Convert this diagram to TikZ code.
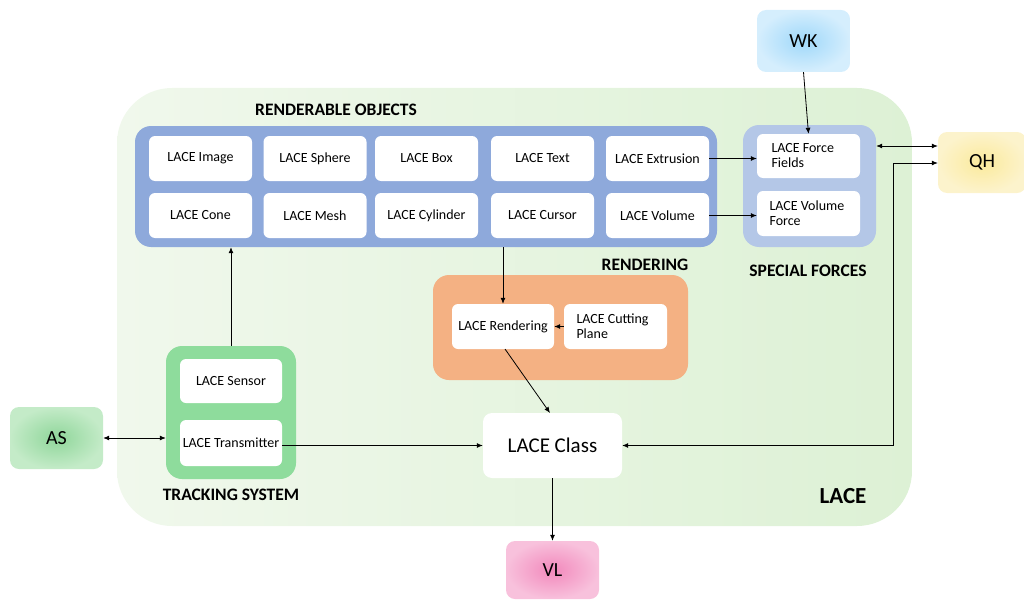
\documentclass[tikz,border=0pt]{standalone}
\usepackage{fontspec}
\setmainfont{Carlito}
\usetikzlibrary{arrows.meta}
\definecolor{lacegreenA}{HTML}{F0F8EC}
\definecolor{lacegreenB}{HTML}{DDF1D5}
\definecolor{roblue}{HTML}{8EA9DB}
\definecolor{sfblue}{HTML}{B4C7E7}
\definecolor{rendorange}{HTML}{F4B183}
\definecolor{trackgreen}{HTML}{8EDC9C}
\definecolor{wkin}{HTML}{9FD8FA}
\definecolor{wkout}{HTML}{D5EEFD}
\definecolor{qhin}{HTML}{FBEA9C}
\definecolor{qhout}{HTML}{FCF3CC}
\definecolor{asin}{HTML}{8FD69A}
\definecolor{asout}{HTML}{C4EBC8}
\definecolor{vlin}{HTML}{F289BC}
\definecolor{vlout}{HTML}{F8C1DC}
\begin{document}
\begin{tikzpicture}[x=1pt,y=-1pt,
  inbox/.style={fill=white,rounded corners=6pt,minimum width=103pt,minimum height=45pt,inner sep=0pt,font=\fontsize{14}{15}\selectfont,align=flush left},
  container/.style={rounded corners=16pt,inner sep=0pt},
  ext/.style={rounded corners=9pt,minimum width=93pt,minimum height=62pt,inner sep=0pt,font=\fontsize{20}{22}\selectfont},
  title/.style={font=\bfseries\fontsize{17.5}{19}\selectfont},
  arr/.style={-{Latex[length=6pt,width=5pt]},line width=0.8pt},
  darr/.style={{Latex[length=6pt,width=5pt]}-{Latex[length=6pt,width=5pt]},line width=0.8pt}]
\useasboundingbox (0,0) rectangle (1024,599);
% LACE background
\shade[left color=lacegreenA,right color=lacegreenB,rounded corners=55pt] (117,88) rectangle (912,526);
\node[font=\bfseries\fontsize{23}{25}\selectfont] (lacelbl) at (843,496) {LACE};
% external nodes
\node[ext,inner color=wkin,outer color=wkout] (wk) at (803.5,41) {WK};
\node[ext,inner color=qhin,outer color=qhout,minimum width=88pt,minimum height=61pt] (qh) at (982,162.5) {QH};
\node[ext,inner color=asin,outer color=asout] (as) at (56.5,438) {AS};
\node[ext,inner color=vlin,outer color=vlout,minimum height=58pt] (vl) at (552.5,570) {VL};
% renderable objects
\node[container,fill=roblue,minimum width=582pt,minimum height=121pt] (ro) at (426,186.5) {};
\node[title] (rolbl) at (336,110) {RENDERABLE OBJECTS};
\node[inbox] (img) at (200.5,158.5) {LACE Image};
\node[inbox] (sph) at (315,158.5) {LACE Sphere};
\node[inbox] (box) at (426.5,158.5) {LACE Box};
\node[inbox] (txt) at (542.5,158.5) {LACE Text};
\node[inbox] (extr) at (657.5,158.5) {LACE Extrusion};
\node[inbox] (cone) at (200.5,215.5) {LACE Cone};
\node[inbox] (mesh) at (315,215.5) {LACE Mesh};
\node[inbox] (cyl) at (426.5,215.5) {LACE Cylinder};
\node[inbox] (cur) at (542.5,215.5) {LACE Cursor};
\node[inbox] (vol) at (657.5,215.5) {LACE Volume};
% special forces
\node[container,fill=sfblue,minimum width=133pt,minimum height=122pt] (sf) at (809.5,186) {};
\node[title] (sflbl) at (808,271) {SPECIAL FORCES};
\node[inbox,minimum height=44pt,text width=74pt] (ff) at (808.5,156) {LACE Force\\Fields};
\node[inbox,text width=78pt] (vf) at (808.5,213.5) {LACE Volume\\Force};
% rendering
\node[container,fill=rendorange,minimum width=255pt,minimum height=105pt] (rd) at (560.5,327.5) {};
\node[title] (rdlbl) at (645,265) {RENDERING};
\node[inbox,minimum width=102pt] (rend) at (503,326.5) {LACE Rendering};
\node[inbox,text width=78pt] (cut) at (615.5,326.5) {LACE Cutting\\Plane};
% tracking
\node[container,fill=trackgreen,minimum width=130pt,minimum height=133pt] (tr) at (231,412.5) {};
\node[title] (trlbl) at (231,495) {TRACKING SYSTEM};
\node[inbox,minimum width=102pt,minimum height=44pt] (sens) at (231,381) {LACE Sensor};
\node[inbox,minimum width=102pt,minimum height=46pt] (trans) at (231,443) {LACE Transmitter};
% LACE Class
\node[fill=white,rounded corners=9pt,minimum width=139pt,minimum height=65pt,inner sep=0pt,font=\fontsize{21}{23}\selectfont] (lc) at (552.5,445.5) {LACE Class};
% connectors
\draw[arr] (wk.south) -- (ff.north);
\draw[arr] (extr.east) -- (extr.east -| ff.west);
\draw[arr] (vol.east) -- (vol.east -| vf.west);
\draw[darr] (sf.east |- 0,146) -- (qh.west |- 0,146);
\coordinate (qhturn) at (893,163);
\draw[darr] (lc.east) -- (lc.east -| qhturn) -- (qhturn) -- (qh.west |- qhturn);
\draw[arr] (ro.south -| 503,0) -- (rend.north -| 503,0);
\draw[arr] (tr.north) -- (tr.north |- ro.south);
\draw[darr] (as.east) -- (as.east -| tr.west);
\draw[arr] (trans.east |- lc.west) -- (lc.west);
\draw[arr] (cut.west) -- (rend.east);
\draw[arr] (505,349) -- (550,413);
\draw[arr] (lc.south) -- (vl.north);
\end{tikzpicture}
\end{document}
